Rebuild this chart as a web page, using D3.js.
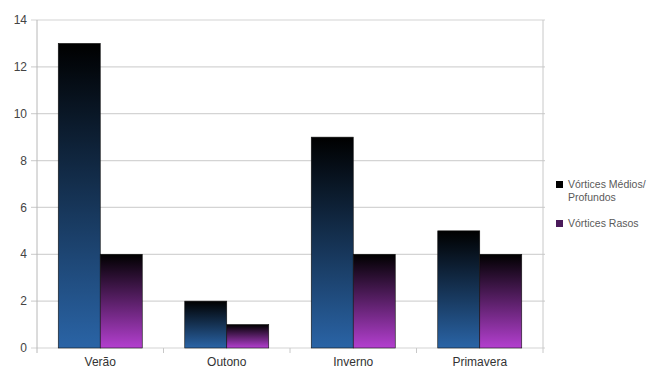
<!DOCTYPE html>
<html>
<head>
<meta charset="utf-8">
<script src="https://cdn.jsdelivr.net/npm/d3@7"></script>
<style>
  body { margin: 0; background: #fff; }
  text { font-family: "Liberation Sans", "DejaVu Sans", sans-serif; }
</style>
</head>
<body>
<div id="canvas"></div>
<script>
const categories = ["Verão", "Outono", "Inverno", "Primavera"];
const seriesNames = ["Vórtices Médios/ Profundos", "Vórtices Rasos"];
const medios = [13, 2, 9, 5];
const rasos = [4, 1, 4, 4];
const yTicks = [0, 2, 4, 6, 8, 10, 12, 14];

const width = 660;
const height = 371;
const margin = { top: 20, left: 37, bottom: 23, right: 117 };
const iwidth = width - margin.left - margin.right;
const iheight = height - margin.top - margin.bottom;

const svg = d3.select("#canvas").append("svg")
  .attr("width", width)
  .attr("height", height);

const defs = svg.append("defs");
const gradColors = ["#2a64a6", "#b33fcf"];
gradColors.forEach((c, i) => {
  const lg = defs.append("linearGradient")
    .attr("id", "grad" + i)
    .attr("x1", 0).attr("y1", 0).attr("x2", 0).attr("y2", 1);
  lg.append("stop").attr("offset", "0%").attr("stop-color", "#000");
  lg.append("stop").attr("offset", "100%").attr("stop-color", c);
});

const g = svg.append("g").attr("transform", `translate(${margin.left},${margin.top})`);

const x = d3.scaleBand().domain(categories).range([0, iwidth]).paddingInner(0.336).paddingOuter(0.168);
const xs = d3.scaleBand().domain([0, 1]).range([0, x.bandwidth()]);
const y = d3.scaleLinear().domain([0, 14]).range([iheight, 0]);

// grid
g.selectAll(".grid").data(yTicks).enter().append("line")
  .attr("x1", -6).attr("x2", iwidth + 2)
  .attr("y1", d => y(d)).attr("y2", d => y(d))
  .attr("stroke", "#d4d4d4").attr("stroke-width", 1.2);

// frame lines
g.append("line").attr("x1", 0).attr("x2", 0).attr("y1", 0).attr("y2", iheight + 5)
  .attr("stroke", "#b8b8b8");
g.append("line").attr("x1", iwidth).attr("x2", iwidth).attr("y1", 0).attr("y2", iheight + 5)
  .attr("stroke", "#c8c8c8");
g.selectAll(".xt").data(d3.range(1, categories.length)).enter().append("line")
  .attr("x1", d => d * iwidth / categories.length).attr("x2", d => d * iwidth / categories.length)
  .attr("y1", iheight).attr("y2", iheight + 5).attr("stroke", "#c8c8c8");

const data = categories.map((c, i) => ({ c, vals: [medios[i], rasos[i]] }));

const groups = g.selectAll(".grp").data(data).enter().append("g")
  .attr("transform", d => `translate(${x(d.c)},0)`);

groups.selectAll("rect").data(d => d.vals.map((v, i) => ({ v, i }))).enter().append("rect")
  .attr("x", d => xs(d.i))
  .attr("width", xs.bandwidth())
  .attr("y", d => y(d.v))
  .attr("height", d => iheight - y(d.v))
  .attr("fill", d => `url(#grad${d.i})`)
  .attr("stroke", "#111")
  .attr("stroke-width", 0.6);

// y labels
g.selectAll(".yl").data(yTicks).enter().append("text")
  .attr("x", -10).attr("y", d => y(d)).attr("dy", "0.35em")
  .attr("text-anchor", "end")
  .attr("font-size", 12).attr("fill", "#444")
  .text(d => d);

// x labels
g.selectAll(".xl").data(categories).enter().append("text")
  .attr("x", d => x(d) + x.bandwidth() / 2).attr("y", iheight + 18)
  .attr("text-anchor", "middle")
  .attr("font-size", 12).attr("fill", "#333")
  .text(d => d);

// legend
const legend = svg.append("g").attr("transform", "translate(556,0)");
legend.append("rect").attr("x", 0).attr("y", 181).attr("width", 7).attr("height", 7).attr("fill", "#000");
legend.append("text").attr("x", 12).attr("y", 188).attr("font-size", 10.5).attr("fill", "#5a5a5a").text("Vórtices Médios/");
legend.append("text").attr("x", 12).attr("y", 201).attr("font-size", 10.5).attr("fill", "#5a5a5a").text("Profundos");
legend.append("rect").attr("x", 0).attr("y", 220).attr("width", 7).attr("height", 7).attr("fill", "#4a1a5a");
legend.append("text").attr("x", 12).attr("y", 227).attr("font-size", 10.5).attr("fill", "#5a5a5a").text(seriesNames[1]);
</script>
</body>
</html>
